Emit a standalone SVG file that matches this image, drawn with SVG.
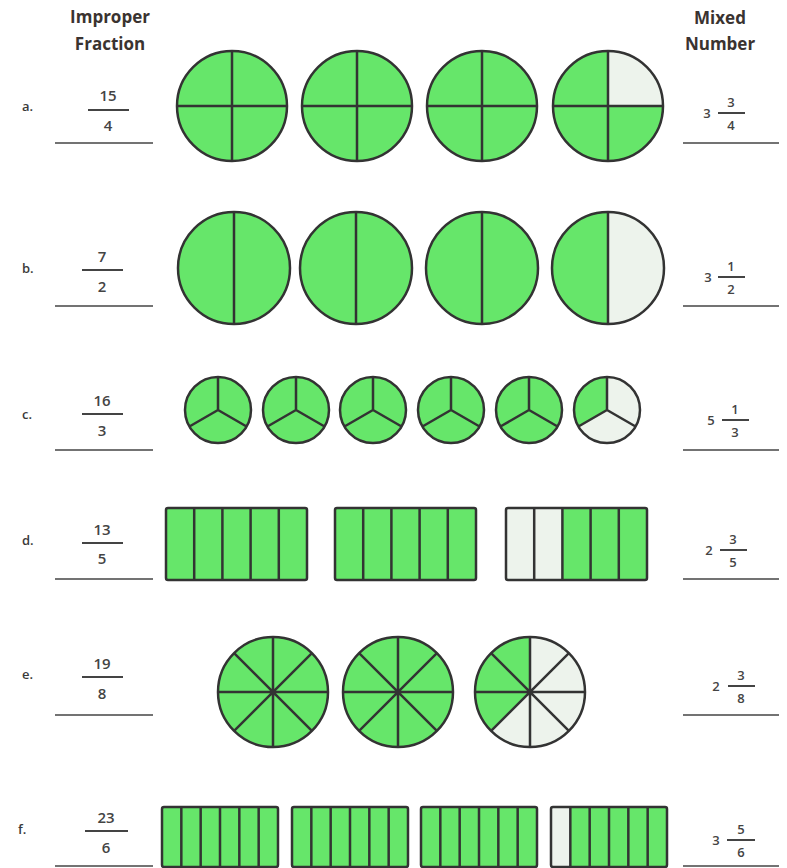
<svg xmlns="http://www.w3.org/2000/svg" width="787" height="868" viewBox="0 0 787 868">
<style>
.g{fill:#66e66a}
.l{fill:#edf3ec}
.s{fill:none;stroke:#333;stroke-width:2.5}
.d{stroke:#333;stroke-width:2.5;fill:none}
.hd{font-family:"Open Sans","Liberation Sans",sans-serif;font-weight:700;font-size:17px;fill:#3a3330;text-anchor:middle}
.lb{font-family:"Open Sans","Liberation Sans",sans-serif;font-weight:600;font-size:13px;fill:#3a3a3a}
.nf{font-family:"Open Sans","Liberation Sans",sans-serif;font-weight:600;font-size:15px;fill:#444;text-anchor:middle}
.nr{font-family:"Open Sans","Liberation Sans",sans-serif;font-weight:600;font-size:13px;fill:#444;text-anchor:middle}
.bar{stroke:#444;stroke-width:2}
.ans{stroke:#444;stroke-width:1.6}
</style>
<defs>
<g id="q4"><circle r="55" class="g"/><path d="M-55 0H55M0-55V55" class="d"/><circle r="55" class="s"/></g>
<g id="h2"><circle r="56" class="g"/><path d="M0-56V56" class="d"/><circle r="56" class="s"/></g>
<g id="t3"><circle r="33" class="g"/><path d="M0 0V-33M0 0L28.58 16.5M0 0L-28.58 16.5" class="d"/><circle r="33" class="s"/></g>
<g id="e8"><circle r="55" class="g"/><path d="M-55 0H55M0-55V55M-38.89-38.89L38.89 38.89M-38.89 38.89L38.89-38.89" class="d"/><circle r="55" class="s"/></g>
<g id="r5"><rect width="141" height="72" rx="2" class="g"/><path d="M28.2 0V72M56.4 0V72M84.6 0V72M112.8 0V72" class="d"/><rect width="141" height="72" rx="2" class="s"/></g>
<g id="r6"><rect width="116" height="60" rx="2" class="g"/><path d="M19.33 0V60M38.67 0V60M58 0V60M77.33 0V60M96.67 0V60" class="d"/><rect width="116" height="60" rx="2" class="s"/></g>
</defs>
<g id="headers">
<text class="hd" x="110" y="23">Improper</text>
<text class="hd" x="110" y="50">Fraction</text>
<text class="hd" x="720" y="24">Mixed</text>
<text class="hd" x="720" y="50">Number</text>
</g>
<g id="connectors"></g>
<g id="row-a">
<text class="lb" x="22" y="111">a.</text>
<text class="nf" x="108" y="101">15</text><line class="bar" x1="88" y1="110" x2="129" y2="110"/><text class="nf" x="108" y="131">4</text>
<line class="ans" x1="55" y1="143" x2="153" y2="143"/>
<use href="#q4" x="232" y="106"/><use href="#q4" x="357" y="106"/><use href="#q4" x="482" y="106"/>
<g transform="translate(608 106)"><circle r="55" class="g"/><path d="M0 0V-55A55 55 0 0 1 55 0Z" class="l"/><path d="M-55 0H55M0-55V55" class="d"/><circle r="55" class="s"/></g>
<text class="nr" x="707" y="118">3</text><text class="nr" x="731" y="107">3</text><line class="bar" x1="718" y1="113" x2="745" y2="113"/><text class="nr" x="731" y="130">4</text>
<line class="ans" x1="683" y1="143" x2="779" y2="143"/>
</g>
<g id="row-b">
<text class="lb" x="22" y="273">b.</text>
<text class="nf" x="102" y="262">7</text><line class="bar" x1="82" y1="270" x2="123" y2="270"/><text class="nf" x="102" y="292">2</text>
<line class="ans" x1="55" y1="306" x2="153" y2="306"/>
<use href="#h2" x="234" y="268"/><use href="#h2" x="356" y="268"/><use href="#h2" x="482" y="268"/>
<g transform="translate(608 268)"><circle r="56" class="g"/><path d="M0-56A56 56 0 0 1 0 56Z" class="l"/><path d="M0-56V56" class="d"/><circle r="56" class="s"/></g>
<text class="nr" x="708" y="282">3</text><text class="nr" x="731" y="271">1</text><line class="bar" x1="718" y1="277" x2="745" y2="277"/><text class="nr" x="731" y="294">2</text>
<line class="ans" x1="683" y1="306" x2="779" y2="306"/>
</g>
<g id="row-c">
<text class="lb" x="22" y="419">c.</text>
<text class="nf" x="102" y="406">16</text><line class="bar" x1="82" y1="414" x2="123" y2="414"/><text class="nf" x="102" y="436">3</text>
<line class="ans" x1="55" y1="450" x2="153" y2="450"/>
<use href="#t3" x="218" y="410"/><use href="#t3" x="296" y="410"/><use href="#t3" x="373" y="410"/><use href="#t3" x="451" y="410"/><use href="#t3" x="529" y="410"/>
<g transform="translate(607 410)"><circle r="33" class="l"/><path d="M0 0L-28.58 16.5A33 33 0 0 1 0-33Z" class="g"/><path d="M0 0V-33M0 0L28.58 16.5M0 0L-28.58 16.5" class="d"/><circle r="33" class="s"/></g>
<text class="nr" x="711" y="425">5</text><text class="nr" x="735" y="414">1</text><line class="bar" x1="722" y1="420" x2="749" y2="420"/><text class="nr" x="735" y="437">3</text>
<line class="ans" x1="683" y1="450" x2="779" y2="450"/>
</g>
<g id="row-d">
<text class="lb" x="22" y="545">d.</text>
<text class="nf" x="102" y="535">13</text><line class="bar" x1="82" y1="543" x2="123" y2="543"/><text class="nf" x="102" y="564">5</text>
<line class="ans" x1="55" y1="579" x2="153" y2="579"/>
<use href="#r5" x="166" y="508"/><use href="#r5" x="335" y="508"/>
<g transform="translate(506 508)"><rect width="141" height="72" rx="2" class="g"/><rect width="56.4" height="72" class="l"/><path d="M28.2 0V72M56.4 0V72M84.6 0V72M112.8 0V72" class="d"/><rect width="141" height="72" rx="2" class="s"/></g>
<text class="nr" x="709" y="555">2</text><text class="nr" x="733" y="544">3</text><line class="bar" x1="720" y1="550" x2="747" y2="550"/><text class="nr" x="733" y="567">5</text>
<line class="ans" x1="683" y1="579" x2="779" y2="579"/>
</g>
<g id="row-e">
<text class="lb" x="22" y="679">e.</text>
<text class="nf" x="102" y="669">19</text><line class="bar" x1="82" y1="677" x2="123" y2="677"/><text class="nf" x="102" y="699">8</text>
<line class="ans" x1="55" y1="715" x2="153" y2="715"/>
<use href="#e8" x="273" y="692"/><use href="#e8" x="398" y="692"/>
<g transform="translate(530 692)"><circle r="55" class="l"/><path d="M0 0L-38.89 38.89A55 55 0 0 1 0-55Z" class="g"/><path d="M-55 0H55M0-55V55M-38.89-38.89L38.89 38.89M-38.89 38.89L38.89-38.89" class="d"/><circle r="55" class="s"/></g>
<text class="nr" x="716" y="691">2</text><text class="nr" x="741" y="680">3</text><line class="bar" x1="728" y1="686" x2="755" y2="686"/><text class="nr" x="741" y="703">8</text>
<line class="ans" x1="683" y1="715" x2="779" y2="715"/>
</g>
<g id="row-f">
<text class="lb" x="18" y="834">f.</text>
<text class="nf" x="106" y="823">23</text><line class="bar" x1="85" y1="831" x2="128" y2="831"/><text class="nf" x="106" y="853">6</text>
<line class="ans" x1="55" y1="866" x2="153" y2="866"/>
<use href="#r6" x="162" y="807"/><use href="#r6" x="292" y="807"/><use href="#r6" x="421" y="807"/>
<g transform="translate(551 807)"><rect width="116" height="60" rx="2" class="g"/><rect width="19.33" height="60" class="l"/><path d="M19.33 0V60M38.67 0V60M58 0V60M77.33 0V60M96.67 0V60" class="d"/><rect width="116" height="60" rx="2" class="s"/></g>
<text class="nr" x="716" y="845">3</text><text class="nr" x="741" y="834">5</text><line class="bar" x1="727" y1="840" x2="755" y2="840"/><text class="nr" x="741" y="857">6</text>
<line class="ans" x1="683" y1="866" x2="779" y2="866"/>
</g>
</svg>
